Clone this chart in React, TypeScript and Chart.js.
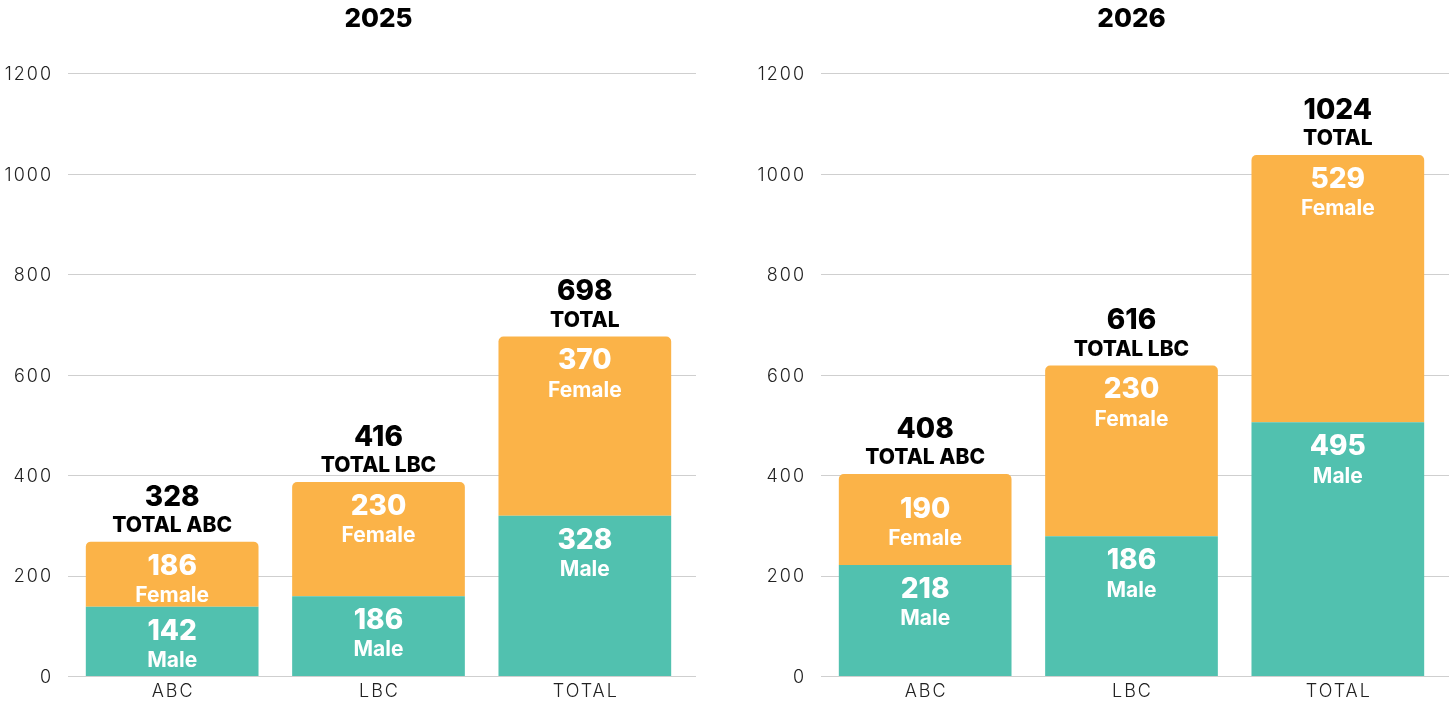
import React, { useEffect, useRef } from "react";
import { Chart, registerables } from "chart.js";

Chart.register(...registerables);

// ---------- data ----------
const categories = ["ABC", "LBC", "TOTAL"];
const yTickValues = [0, 200, 400, 600, 800, 1000, 1200];

// 2025 – segment heights as drawn in the picture
const male2025 = [138, 159, 319];
const female2025 = [129.5, 227, 357];
// 2025 – numbers printed on the chart
const maleLabels2025 = [142, 186, 328];
const femaleLabels2025 = [186, 230, 370];
const totalLabels2025 = [328, 416, 698];
const totalNames2025 = ["TOTAL ABC", "TOTAL LBC", "TOTAL"];

// 2026 – segment heights as drawn in the picture
const male2026 = [221, 278, 505];
const female2026 = [181, 340, 532];
// 2026 – numbers printed on the chart
const maleLabels2026 = [218, 186, 495];
const femaleLabels2026 = [190, 230, 529];
const totalLabels2026 = [408, 616, 1024];
const totalNames2026 = ["TOTAL ABC", "TOTAL LBC", "TOTAL"];

// ---------- style ----------
const TEAL = "#51C1AF";
const ORANGE = "#FBB348";
const GRID = "#cfcfcf";
const FONT = "Inter, 'Noto Sans', sans-serif";
const AXIS_SPACING = 2;

const gridPlugin = {
  id: "extGrid",
  beforeDatasetsDraw(chart: any) {
    const { ctx, chartArea } = chart;
    const ys = chart.scales.y;
    ctx.save();
    ctx.strokeStyle = GRID;
    ctx.lineWidth = 1;
    ys.ticks.forEach((t: any) => {
      const y = Math.round(ys.getPixelForValue(t.value)) + 0.5;
      ctx.beginPath();
      ctx.moveTo(chartArea.left - 1, y);
      ctx.lineTo(chart.width, y);
      ctx.stroke();
    });
    ctx.restore();
  },
};

const axisLabelPlugin = {
  id: "axisLabels",
  afterDraw(chart: any) {
    const { ctx, chartArea } = chart;
    const xs = chart.scales.x;
    const ys = chart.scales.y;
    ctx.save();
    (ctx as any).letterSpacing = `${AXIS_SPACING}px`;
    ctx.fillStyle = "#222";
    ctx.font = `300 18px ${FONT}`;
    ctx.textBaseline = "middle";
    ctx.textAlign = "right";
    ys.ticks.forEach((t: any) => {
      const y = ys.getPixelForValue(t.value);
      ctx.fillText(String(t.value), chartArea.left - 18 + AXIS_SPACING, y + 1.5);
    });
    ctx.textAlign = "center";
    (chart.data.labels as string[]).forEach((lab: string, i: number) => {
      const x = xs.getPixelForTick(i);
      ctx.fillText(lab, x + AXIS_SPACING / 2, chartArea.bottom + 16);
    });
    ctx.restore();
  },
};

const labelPlugin = {
  id: "barLabels",
  afterDatasetsDraw(chart: any, _args: any, opts: any) {
    const { ctx } = chart;
    ctx.save();
    ctx.textAlign = "center";
    ctx.textBaseline = "middle";
    const sets = [
      { di: 0, values: opts.male, name: "Male", nudge: [0, 0, 0] },
      { di: 1, values: opts.female, name: "Female", nudge: opts.femaleNudge || [0, 0, 0] },
    ];
    sets.forEach((s) => {
      const meta = chart.getDatasetMeta(s.di);
      meta.data.forEach((bar: any, i: number) => {
        const { x, y } = bar.getProps(["x", "y"], true);
        ctx.fillStyle = "#ffffff";
        ctx.font = `800 28px ${FONT}`;
        ctx.fillText(String(s.values[i]), x, y + 24.5 + s.nudge[i]);
        ctx.font = `700 21px ${FONT}`;
        ctx.fillText(s.name, x, y + 54 + s.nudge[i]);
      });
    });
    const topMeta = chart.getDatasetMeta(1);
    topMeta.data.forEach((bar: any, i: number) => {
      const { x, y } = bar.getProps(["x", "y"], true);
      ctx.fillStyle = "#000000";
      ctx.font = `800 28px ${FONT}`;
      ctx.fillText(String(opts.totals[i]), x, y - 44.5);
      ctx.font = `800 21px ${FONT}`;
      ctx.fillText(opts.totalNames[i], x, y - 16);
    });
    ctx.restore();
  },
};

function makeConfig(
  title: string,
  male: number[],
  female: number[],
  labelOpts: any
): any {
  return {
    type: "bar",
    data: {
      labels: categories,
      datasets: [
        {
          label: "Male",
          data: male,
          backgroundColor: TEAL,
          borderWidth: 0,
          borderRadius: 0,
        },
        {
          label: "Female",
          data: female,
          backgroundColor: ORANGE,
          borderWidth: 0,
          borderRadius: { topLeft: 5, topRight: 5, bottomLeft: 0, bottomRight: 0 },
          borderSkipped: false,
        },
      ],
    },
    options: {
      responsive: false,
      animation: false,
      layout: { padding: { left: 0, right: 8, top: 0, bottom: 0 } },
      datasets: {
        bar: { categoryPercentage: 1, barPercentage: 0.837 },
      },
      scales: {
        x: {
          stacked: true,
          grid: { display: false, drawTicks: false },
          border: { display: false },
          ticks: { display: false },
          afterFit: (s: any) => {
            s.height = 31;
          },
        },
        y: {
          stacked: true,
          min: 0,
          max: 1200,
          afterBuildTicks: (s: any) => {
            s.ticks = yTickValues.map((v) => ({ value: v }));
          },
          grid: { display: false, drawTicks: false },
          border: { display: false },
          ticks: { display: false },
          afterFit: (s: any) => {
            s.width = 69;
          },
        },
      },
      plugins: {
        legend: { display: false },
        tooltip: { enabled: false },
        title: {
          display: true,
          text: title,
          fullSize: false,
          color: "#000",
          font: { family: FONT, size: 26, weight: "800" },
          padding: { top: 4, bottom: 38 },
        },
        barLabels: labelOpts,
      },
    },
    plugins: [gridPlugin, labelPlugin, axisLabelPlugin],
  };
}

function BarChart(props: { config: any; width: number; height: number }) {
  const ref = useRef<HTMLCanvasElement | null>(null);
  useEffect(() => {
    if (!ref.current) return;
    const chart = new Chart(ref.current, props.config);
    return () => chart.destroy();
  }, [props.config]);
  return (
    <canvas
      ref={ref}
      width={props.width}
      height={props.height}
      style={{ width: props.width, height: props.height, display: "block" }}
    />
  );
}

const config2025 = makeConfig("2025", male2025, female2025, {
  male: maleLabels2025,
  female: femaleLabels2025,
  totals: totalLabels2025,
  totalNames: totalNames2025,
});

const config2026 = makeConfig("2026", male2026, female2026, {
  male: maleLabels2026,
  female: femaleLabels2026,
  totals: totalLabels2026,
  totalNames: totalNames2026,
  femaleNudge: [11, 0, 0],
});

export default function App() {
  return (
    <div
      style={{
        position: "fixed",
        left: 0,
        top: 0,
        width: 1449,
        height: 707,
        background: "#fff",
        overflow: "hidden",
      }}
    >
      <div style={{ position: "absolute", left: 0, top: 0 }}>
        <BarChart config={config2025} width={696} height={707} />
      </div>
      <div style={{ position: "absolute", left: 753, top: 0 }}>
        <BarChart config={config2026} width={696} height={707} />
      </div>
    </div>
  );
}
